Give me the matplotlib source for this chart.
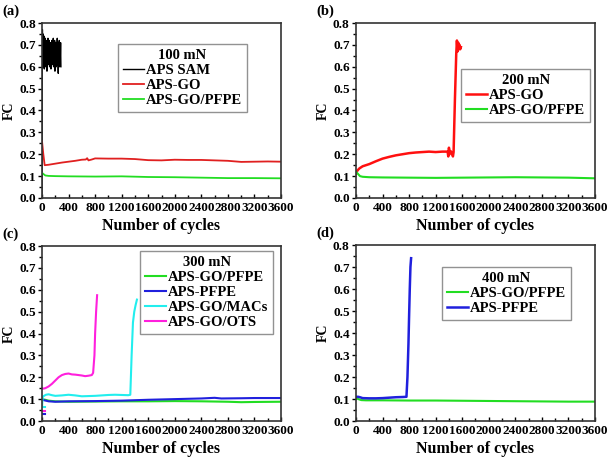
import matplotlib
matplotlib.use('Agg')
import matplotlib.pyplot as plt
from matplotlib.ticker import MultipleLocator

plt.rcParams['font.family'] = 'Liberation Serif'
plt.rcParams['font.weight'] = 'bold'

# (a) 100 mN
a_sam_x = [0, 3, 6, 10, 14, 18, 22, 26, 30, 35, 40, 45, 50, 55, 60, 65, 70, 75, 80, 85, 90, 95, 100,
           105, 110, 115, 120, 125, 130, 135, 140, 145, 150, 155, 160, 165, 170, 175, 180, 185, 190,
           195, 200, 205, 210, 215, 220, 225, 230, 235, 240, 245, 250, 255, 260, 265, 270, 275, 280, 285]
a_sam_y = [0.02, 0.45, 0.77, 0.62, 0.75, 0.60, 0.72, 0.63, 0.74, 0.59, 0.71, 0.64, 0.73, 0.60, 0.70, 0.62,
           0.72, 0.58, 0.69, 0.65, 0.73, 0.61, 0.70, 0.64, 0.72, 0.60, 0.69, 0.63, 0.71, 0.59, 0.70, 0.65,
           0.72, 0.61, 0.68, 0.64, 0.73, 0.60, 0.70, 0.62, 0.72, 0.58, 0.69, 0.64, 0.71, 0.60, 0.70, 0.63,
           0.73, 0.61, 0.68, 0.57, 0.71, 0.62, 0.72, 0.60, 0.69, 0.64, 0.71, 0.60]
a_go_x = [0, 20, 40, 100, 200, 300, 400, 500, 600, 660, 680, 700, 750, 800, 1000, 1200, 1400, 1600,
          1800, 2000, 2200, 2400, 2600, 2800, 3000, 3200, 3400, 3600]
a_go_y = [0.26, 0.20, 0.15, 0.152, 0.157, 0.162, 0.166, 0.170, 0.175, 0.176, 0.182, 0.172, 0.176, 0.181,
          0.180, 0.180, 0.178, 0.173, 0.172, 0.175, 0.174, 0.174, 0.172, 0.170, 0.165, 0.166, 0.167, 0.166]
a_pfpe_x = [0, 20, 50, 100, 200, 400, 800, 1200, 1600, 2000, 2400, 2800, 3200, 3600]
a_pfpe_y = [0.115, 0.11, 0.103, 0.101, 0.100, 0.099, 0.098, 0.099, 0.096, 0.095, 0.093, 0.091, 0.091, 0.090]

# (b) 200 mN
b_go_x = [0, 20, 50, 100, 200, 300, 400, 500, 600, 700, 800, 900, 1000, 1100, 1200, 1300, 1380, 1390,
          1400, 1410, 1420, 1440, 1460, 1470, 1490, 1510, 1520, 1530, 1540, 1550, 1560, 1570, 1580]
b_go_y = [0.11, 0.125, 0.135, 0.145, 0.155, 0.168, 0.180, 0.188, 0.195, 0.200, 0.205, 0.208, 0.210,
          0.212, 0.210, 0.212, 0.212, 0.19, 0.23, 0.20, 0.215, 0.21, 0.19, 0.21, 0.45, 0.66, 0.72, 0.67,
          0.71, 0.68, 0.70, 0.68, 0.69]
b_pfpe_x = [0, 30, 60, 100, 200, 400, 800, 1200, 1600, 2000, 2400, 2800, 3200, 3600]
b_pfpe_y = [0.12, 0.11, 0.10, 0.097, 0.095, 0.094, 0.093, 0.092, 0.093, 0.094, 0.095, 0.094, 0.093, 0.090]

# (c) 300 mN
c_pfpe_x = [0, 50, 100, 200, 400, 800, 1200, 1600, 2000, 2400, 2800, 3000, 3200, 3600]
c_pfpe_y = [0.10, 0.097, 0.093, 0.090, 0.088, 0.089, 0.090, 0.090, 0.091, 0.090, 0.088, 0.086, 0.087, 0.088]
c_aps_x = [0, 30, 100, 200, 300, 400, 800, 1200, 1600, 2000, 2400, 2600, 2700, 3000, 3200, 3600]
c_aps_y = [0.10, 0.095, 0.090, 0.088, 0.089, 0.090, 0.091, 0.093, 0.097, 0.100, 0.103, 0.106, 0.103, 0.104, 0.105, 0.105]
c_macs_x = [0, 10, 30, 60, 100, 150, 200, 300, 400, 500, 600, 700, 800, 900, 1000, 1100, 1200, 1300,
            1330, 1350, 1370, 1390, 1410, 1430]
c_macs_y = [0.065, 0.11, 0.115, 0.12, 0.122, 0.118, 0.115, 0.117, 0.12, 0.117, 0.113, 0.114, 0.115,
            0.117, 0.119, 0.120, 0.119, 0.118, 0.12, 0.30, 0.45, 0.50, 0.53, 0.555]
c_ots_x = [0, 20, 50, 100, 150, 200, 250, 300, 350, 400, 450, 500, 600, 650, 700, 750, 770, 790, 800,
           815, 830]
c_ots_y = [0.15, 0.148, 0.150, 0.158, 0.170, 0.185, 0.200, 0.210, 0.215, 0.217, 0.213, 0.212, 0.208,
           0.205, 0.207, 0.210, 0.22, 0.30, 0.40, 0.50, 0.575]
# short start-up traces near zero cycles
c_macs_start_x = [15, 45]
c_macs_start_y = [0.065, 0.065]
c_ots_start_x = [15, 45]
c_ots_start_y = [0.045, 0.045]
c_aps_start_x = [15, 45]
c_aps_start_y = [0.03, 0.03]

# (d) 400 mN
d_pfpe_x = [0, 30, 80, 150, 400, 800, 1200, 1600, 2000, 2400, 2800, 3200, 3600]
d_pfpe_y = [0.105, 0.10, 0.095, 0.094, 0.094, 0.093, 0.093, 0.092, 0.091, 0.090, 0.089, 0.088, 0.088]
d_aps_x = [0, 30, 60, 100, 200, 300, 400, 500, 600, 700, 760, 775, 790, 800, 810, 820, 830]
d_aps_y = [0.11, 0.11, 0.108, 0.104, 0.103, 0.103, 0.104, 0.106, 0.108, 0.109, 0.11, 0.20, 0.35, 0.48,
           0.60, 0.70, 0.74]

xticks = [0, 400, 800, 1200, 1600, 2000, 2400, 2800, 3200, 3600]

fig = plt.figure(figsize=(6.09, 4.61), dpi=100)
W, H = 609, 461
boxes = {
    'a': (42, 23, 281, 198),
    'b': (356, 23, 595, 198),
    'c': (42, 246, 281, 421),
    'd': (356, 245, 595, 421),
}
axs = {}
for k, (x0, y0, x1, y1) in boxes.items():
    ax = fig.add_axes([x0 / W, 1 - y1 / H, (x1 - x0) / W, (y1 - y0) / H])
    ax.set_xlim(0, 3600)
    ax.set_ylim(0, 0.8)
    ax.set_xticks(xticks)
    ax.xaxis.set_minor_locator(MultipleLocator(200))
    ax.yaxis.set_major_locator(MultipleLocator(0.1))
    ax.yaxis.set_minor_locator(MultipleLocator(0.05))
    ax.tick_params(which='both', labelsize=9.5, width=1)
    ax.tick_params(axis='x', which='both', direction='in', pad=3)
    ax.tick_params(axis='y', which='both', direction='out', pad=1.5)
    ax.tick_params(which='major', length=3)
    ax.tick_params(which='minor', length=2)
    ax.yaxis.set_major_formatter(plt.FormatStrFormatter('%.1f'))
    for s in ax.spines.values():
        s.set_linewidth(1.2)
        s.set_color('#333333')
    ax.set_xlabel('Number of cycles', fontsize=11.5, fontweight='bold', labelpad=3)
    ax.set_ylabel('FC', fontsize=10, fontweight='bold', labelpad=2)
    fig.text((x0 - 40) / W, 1 - (y0 - 12) / H, '(' + k + ')', fontsize=10.5, fontweight='bold',
             ha='left', va='center')
    axs[k] = ax

leg_kw = dict(frameon=True, fancybox=False, edgecolor='#777777', handlelength=1.4,
              handletextpad=0.15, borderpad=0.35, borderaxespad=0, labelspacing=0.12,
              prop={'size': 10.5, 'weight': 'bold'},
              title_fontproperties={'size': 10.5, 'weight': 'bold'})

ax = axs['a']
ax.plot(a_sam_x, a_sam_y, color='black', lw=1, label='APS SAM')
ax.plot(a_go_x, a_go_y, color='#e02020', lw=1.3, label='APS-GO')
ax.plot(a_pfpe_x, a_pfpe_y, color='#22dd22', lw=1.3, label='APS-GO/PFPE')
ax.legend(loc='upper left', bbox_to_anchor=(0.318, 0.878), title='100 mN', **leg_kw)

ax = axs['b']
ax.plot(b_go_x, b_go_y, color='#ff1010', lw=1.8, label='APS-GO')
ax.plot(b_pfpe_x, b_pfpe_y, color='#22dd22', lw=1.5, label='APS-GO/PFPE')
ax.legend(loc='upper left', bbox_to_anchor=(0.44, 0.737), title='200 mN', **leg_kw)

ax = axs['c']
ax.plot(c_pfpe_x, c_pfpe_y, color='#22dd22', lw=1.5, label='APS-GO/PFPE')
ax.plot(c_aps_x, c_aps_y, color='#2020dd', lw=1.5, label='APS-PFPE')
ax.plot(c_macs_x, c_macs_y, color='#22eeee', lw=1.5, label='APS-GO/MACs')
ax.plot(c_ots_x, c_ots_y, color='#ff20dd', lw=1.5, label='APS-GO/OTS')
ax.plot(c_macs_start_x, c_macs_start_y, color='#22eeee', lw=1.5)
ax.plot(c_ots_start_x, c_ots_start_y, color='#ff20dd', lw=1.5)
ax.plot(c_aps_start_x, c_aps_start_y, color='#2020dd', lw=1.5)
ax.legend(loc='upper left', bbox_to_anchor=(0.41, 0.973), title='300 mN', **leg_kw)

ax = axs['d']
ax.plot(d_pfpe_x, d_pfpe_y, color='#22dd22', lw=1.5, label='APS-GO/PFPE')
ax.plot(d_aps_x, d_aps_y, color='#2020dd', lw=1.8, label='APS-PFPE')
ax.legend(loc='upper left', bbox_to_anchor=(0.36, 0.875), title='400 mN', **leg_kw)

fig.savefig('out.png', dpi=100)
